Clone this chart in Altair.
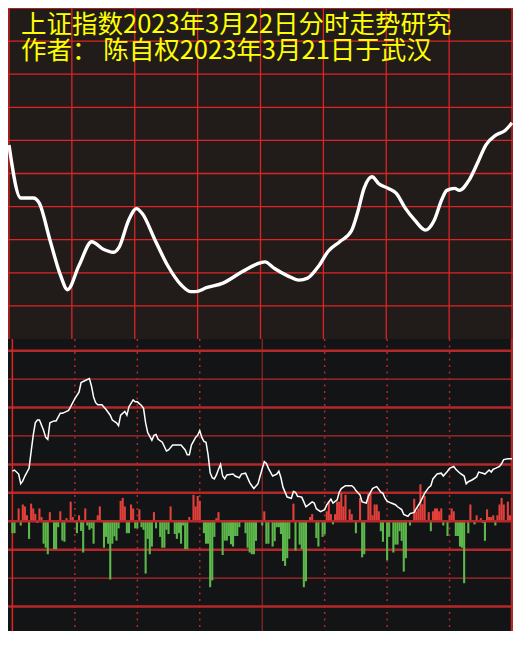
import altair as alt
import pandas as pd

# ---------------- text ----------------
title_line1 = "上证指数2023年3月22日分时走势研究"
title_line2 = "作者： 陈自权2023年3月21日于武汉"

# ---------------- top panel: forecast curve (minute of session, grid units) ----------------
forecast_minute = [0, 5.6, 11.6, 14.4, 19.5, 24.6, 27.9, 33.4, 39.5, 45.0,
                   49.7, 52.5, 57.1, 60.8, 63.6, 69.6, 75.7, 82.2, 86.8, 89.1,
                   94.2, 102.1, 111.4, 119.8, 122.1, 126.7, 133.2, 138.3, 142.5, 147.6,
                   152.3, 157.8, 163.4, 166.2, 169.4, 173.2, 176.4, 181.0, 184.8, 188.9,
                   193.6, 198.7, 202.9, 206.6, 208.9, 212.6, 214.9, 219.6, 223.7, 227.5,
                   232.1, 236.7, 240]
forecast_level = [5.86, 4.26, 4.26, 4.11, 3.00, 1.92, 1.49, 2.22, 2.94, 2.71,
                  2.62, 2.77, 3.59, 3.94, 3.79, 3.00, 2.22, 1.63, 1.43, 1.43,
                  1.55, 1.69, 2.04, 2.30, 2.33, 2.13, 1.90, 1.78, 1.84, 2.19,
                  2.65, 2.94, 3.27, 3.79, 4.55, 4.90, 4.69, 4.55, 4.40, 3.97,
                  3.59, 3.29, 3.59, 4.23, 4.49, 4.55, 4.49, 4.81, 5.34, 5.86,
                  6.15, 6.30, 6.53]

# ---------------- bottom panel: actual minute line (minute, grid units) ----------------
price_points = [
    (0, 1.76), (1, 1.80), (3, 1.66), (4, 1.32), (5, 1.42), (6, 1.59), (8, 1.86), (9, 2.45),
    (10, 3.02), (11, 3.46), (12, 3.56), (13, 3.56), (15, 3.19), (16, 2.95), (17, 2.88),
    (18, 3.46), (20, 3.53), (21, 3.53), (23, 3.80), (24, 3.80), (25, 3.83), (27, 3.90),
    (28, 4.03), (30, 4.31), (32, 4.54), (33, 4.88), (35, 4.95), (37, 5.02), (38, 4.75),
    (39, 4.37), (40, 4.17), (41, 4.10), (43, 4.10), (45, 3.93), (47, 3.73), (48, 3.56),
    (50, 3.46), (51, 3.36), (52, 3.73), (54, 3.86), (55, 3.73), (56, 4.03), (58, 4.27),
    (59, 4.20), (60, 4.20), (62, 4.07), (63, 3.97), (64, 3.46), (65, 3.12), (67, 2.85),
    (68, 3.02), (69, 3.05), (70, 2.88), (72, 2.78), (74, 2.47), (75, 2.51), (77, 2.68),
    (79, 2.68), (81, 2.68), (83, 2.51), (84, 2.34), (85, 2.34), (86, 2.68), (88, 2.95),
    (89, 3.02), (90, 3.19), (91, 2.95), (92, 2.81), (93, 2.78), (94, 2.34), (95, 1.70),
    (96, 1.53), (97, 1.49), (98, 1.63), (99, 1.83), (100, 2.00), (101, 1.59), (102, 1.49),
    (103, 1.63), (106, 1.66), (107, 1.59), (109, 1.53), (110, 1.66), (112, 1.69),
    (114, 1.36), (115, 1.25), (116, 1.15), (118, 1.32), (119, 1.59), (121, 2.10),
    (122, 2.03), (123, 1.86), (125, 1.59), (127, 1.66), (128, 1.76), (129, 1.53),
    (130, 1.19), (132, 0.85), (134, 0.81), (135, 1.05), (136, 1.02), (137, 0.88),
    (139, 0.85), (140, 0.68), (141, 0.51), (144, 0.68), (145, 0.64), (146, 0.44),
    (148, 0.34), (150, 0.41), (151, 0.58), (153, 0.78), (154, 0.64), (156, 0.75),
    (157, 1.02), (158, 1.15), (160, 1.25), (163, 1.25), (164, 1.19), (165, 1.08),
    (167, 0.92), (168, 0.68), (170, 0.64), (171, 0.88), (173, 1.15), (174, 1.19),
    (175, 1.22), (177, 1.02), (178, 0.98), (179, 0.81), (180, 0.71), (182, 0.64),
    (184, 0.58), (185, 0.51), (187, 0.41), (188, 0.24), (190, 0.17), (191, 0.27),
    (193, 0.31), (194, 0.44), (196, 0.68), (198, 0.98), (200, 1.19), (201, 1.25),
    (202, 1.49), (204, 1.66), (206, 1.69), (207, 1.59), (209, 1.76), (210, 1.86),
    (212, 1.93), (213, 1.83), (215, 1.69), (217, 1.59), (218, 1.32), (219, 1.39),
    (221, 1.46), (223, 1.56), (224, 1.73), (226, 1.69), (227, 1.66), (229, 1.80),
    (230, 1.73), (231, 1.83), (232, 1.86), (234, 1.93), (235, 2.03), (236, 2.17),
    (238, 2.20), (240, 2.20),
]
price_minute = [p[0] for p in price_points]
price_level = [p[1] for p in price_points]

# ---------------- bottom panel: red/green minute bars (minute, grid units) ----------------
bar_points = [
    (3, 0.45), (5, 0.59), (6, 0.52), (7, 0.21), (9, 0.62), (10, 0.45), (11, 0.26), (13, 0.45),
    (14, 0.15), (18, 0.32), (23, 0.35), (26, 0.11), (28, 0.69), (29, 0.15), (32, 0.21),
    (35, 0.45), (41, 0.21), (42, 0.52), (52, 0.72), (53, 0.82), (54, 0.52), (57, 0.59),
    (58, 0.45), (61, 0.42), (68, 0.32), (76, 0.52), (85, 0.15), (87, 0.93), (88, 0.52),
    (89, 0.89), (90, 0.72), (98, 0.11), (99, 0.32), (121, 0.35), (135, 0.62), (143, 0.15),
    (144, 0.25), (151, 0.35), (152, 0.70), (153, 0.25), (155, 0.25), (156, 0.69),
    (157, 0.69), (158, 0.99), (159, 0.52), (160, 0.93), (162, 0.42), (163, 0.25),
    (167, 0.82), (171, 0.99), (172, 0.99), (173, 0.21), (174, 0.59), (175, 0.59),
    (176, 0.35), (193, 0.79), (194, 0.35), (195, 0.45), (196, 1.30), (197, 0.60),
    (198, 0.89), (200, 0.32), (202, 0.35), (203, 0.45), (204, 0.45), (205, 0.35),
    (206, 0.45), (210, 0.21), (211, 0.45), (212, 0.35), (220, 0.59), (223, 0.21),
    (225, 0.11), (228, 0.42), (229, 0.15), (230, 0.15), (231, 0.21), (233, 0.21),
    (234, 0.59), (235, 0.82), (236, 0.59), (238, 0.69), (239, 0.21),
    (0, -0.42), (1, -0.42), (4, -0.15), (8, -0.62), (12, -0.06), (15, -0.79), (16, -0.93),
    (17, -1.16), (20, -0.98), (21, -0.98), (22, -0.21), (24, -0.68), (25, -0.72),
    (31, -0.42), (33, -0.34), (34, -1.10), (36, -0.15), (37, -0.30), (38, -0.25),
    (39, -0.79), (44, -0.93), (45, -0.55), (46, -0.79), (47, -2.05), (48, -0.79),
    (49, -0.53), (50, -0.68), (51, -0.25), (55, -0.42), (56, -0.42), (59, -0.25),
    (60, -0.25), (62, -0.21), (63, -0.30), (64, -1.84), (65, -0.62), (66, -1.16),
    (67, -0.89), (69, -0.25), (71, -0.55), (72, -0.93), (73, -0.93), (74, -0.30),
    (75, -0.45), (78, -0.45), (79, -0.62), (80, -0.42), (81, -0.79), (82, -0.15),
    (83, -0.98), (84, -0.98), (92, -0.42), (93, -0.79), (94, -0.79), (95, -2.32),
    (96, -2.08), (97, -0.55), (101, -1.19), (102, -0.68), (103, -0.68), (104, -0.52),
    (105, -0.81), (106, -0.89), (107, -0.52), (108, -0.52), (109, -0.21), (112, -0.42),
    (113, -0.93), (114, -1.10), (115, -1.16), (116, -1.16), (117, -0.69), (120, -0.15),
    (122, -0.79), (123, -0.79), (125, -0.89), (126, -0.70), (127, -0.21), (128, -0.21),
    (129, -0.45), (130, -1.40), (131, -1.57), (132, -1.30), (133, -0.62), (136, -1.03),
    (138, -0.82), (139, -0.98), (140, -2.32), (141, -2.11), (146, -0.59), (147, -0.89),
    (149, -0.55), (150, -0.45), (154, -0.11), (165, -0.42), (168, -1.27), (169, -1.16),
    (177, -0.35), (178, -0.72), (180, -1.37), (181, -0.55), (183, -1.10), (184, -0.82),
    (185, -0.82), (186, -0.35), (187, -0.69), (188, -1.77), (189, -1.30), (191, -0.15),
    (201, -0.35), (207, -0.15), (209, -0.52), (213, -0.52), (214, -0.52), (215, -0.89),
    (216, -0.93), (217, -2.18), (219, -0.42), (222, -0.11), (226, -0.06), (227, -0.69),
    (232, -0.15),
]
bar_minute = [b[0] for b in bar_points]
bar_value = [b[1] for b in bar_points]

# grid definitions
top_h_levels = [1, 2, 3, 4, 5, 6, 7, 8, 9, 10]
time_ticks = [0, 30, 60, 90, 120, 150, 180, 210, 240]
bottom_thick_levels = [6, 4, 2, 1, -1, -3]
bottom_thin_levels = [5, 3, -2]
bottom_dotted_minutes = [30, 60, 90, 150, 180, 210]

# ---------------- styling ----------------
W = 505
H1 = 331
H2 = 292
TOP_BG = "#211c1a"
BOT_BG = "#131416"
TOP_GRID = "#dc2424"
BOT_GRID = "#b4282a"
UP = "#e3403b"
DOWN = "#5cb84a"
FONT = "Noto Sans CJK SC"

top_x = alt.Scale(domain=[-0.47, 240.47], nice=False, zero=False)
top_y = alt.Scale(domain=[0, 10], nice=False, zero=False)
bot_x = alt.Scale(domain=[-2.11, 240.47], nice=False, zero=False)
bot_y = alt.Scale(domain=[-3.86, 6.41], nice=False, zero=False)

# ---------------- top panel ----------------
top_h = alt.Chart(pd.DataFrame({"lvl": top_h_levels})).mark_rule(
    color=TOP_GRID, strokeWidth=1.3, clip=True
).encode(y=alt.Y("lvl:Q", scale=top_y, axis=None))

top_v = alt.Chart(pd.DataFrame({"m": time_ticks})).mark_rule(
    color=TOP_GRID, strokeWidth=1.3, clip=True
).encode(x=alt.X("m:Q", scale=top_x, axis=None))

forecast = alt.Chart(
    pd.DataFrame({"m": forecast_minute, "v": forecast_level})
).mark_line(color="white", strokeWidth=3.4, interpolate="monotone", clip=True).encode(
    x=alt.X("m:Q", scale=top_x, axis=None),
    y=alt.Y("v:Q", scale=top_y, axis=None),
    order="m:Q",
)

t1 = alt.Chart(pd.DataFrame({"t": [title_line1]})).mark_text(
    font=FONT, fontSize=25.5, color="#ffff00", align="left", baseline="top"
).encode(text="t:N", x=alt.value(13), y=alt.value(4.5))

t2 = alt.Chart(pd.DataFrame({"t": [title_line2]})).mark_text(
    font=FONT, fontSize=25.5, color="#ffff00", align="left", baseline="top"
).encode(text="t:N", x=alt.value(13), y=alt.value(30.5))

top = alt.layer(top_h, top_v, forecast, t1, t2).properties(
    width=W, height=H1, view=alt.ViewBackground(fill=TOP_BG, stroke=None)
)

# ---------------- bottom panel ----------------
b_thick = alt.Chart(pd.DataFrame({"lvl": bottom_thick_levels})).mark_rule(
    color=BOT_GRID, strokeWidth=2.5, clip=True
).encode(y=alt.Y("lvl:Q", scale=bot_y, axis=None))

b_thin = alt.Chart(pd.DataFrame({"lvl": bottom_thin_levels})).mark_rule(
    color=BOT_GRID, strokeWidth=1.2, clip=True
).encode(y=alt.Y("lvl:Q", scale=bot_y, axis=None))

b_dots = alt.Chart(pd.DataFrame({"m": bottom_dotted_minutes})).mark_rule(
    color=BOT_GRID, strokeWidth=1.5, strokeDash=[2, 4.5], clip=True
).encode(x=alt.X("m:Q", scale=bot_x, axis=None))

b_left = alt.Chart(pd.DataFrame({"m": [time_ticks[0]]})).mark_rule(
    color=TOP_GRID, strokeWidth=1.5, clip=True
).encode(x=alt.X("m:Q", scale=bot_x, axis=None))

b_mid = alt.Chart(pd.DataFrame({"m": [time_ticks[4]]})).mark_rule(
    color=BOT_GRID, strokeWidth=1.0, clip=True
).encode(x=alt.X("m:Q", scale=bot_x, axis=None))

b_right = alt.Chart(pd.DataFrame({"m": [time_ticks[-1]]})).mark_rule(
    color=BOT_GRID, strokeWidth=2.5, clip=True
).encode(x=alt.X("m:Q", scale=bot_x, axis=None))

bars_df = pd.DataFrame({"m": bar_minute, "v": bar_value})
bars_df["dir"] = ["up" if v > 0 else "down" for v in bars_df["v"]]
bars = alt.Chart(bars_df).mark_rule(strokeWidth=2.1, clip=True).encode(
    x=alt.X("m:Q", scale=bot_x, axis=None),
    y=alt.Y("v:Q", scale=bot_y, axis=None),
    y2=alt.datum(0),
    color=alt.Color("dir:N", scale=alt.Scale(domain=["up", "down"], range=[UP, DOWN]), legend=None),
)

b_zero = alt.Chart(pd.DataFrame({"lvl": [0]})).mark_rule(
    color=BOT_GRID, strokeWidth=2.5, clip=True
).encode(y=alt.Y("lvl:Q", scale=bot_y, axis=None))

price = alt.Chart(pd.DataFrame({"m": price_minute, "v": price_level})).mark_line(
    color="white", strokeWidth=1.5, clip=True
).encode(
    x=alt.X("m:Q", scale=bot_x, axis=None),
    y=alt.Y("v:Q", scale=bot_y, axis=None),
    order="m:Q",
)

bottom = alt.layer(b_thick, b_thin, b_dots, b_left, b_mid, b_right, bars, b_zero, price).properties(
    width=W, height=H2, view=alt.ViewBackground(fill=BOT_BG, stroke=None)
)

chart = (
    alt.vconcat(top, bottom, spacing=0)
    .resolve_scale(x="independent", y="independent", color="independent")
    .properties(padding=0, background=BOT_BG)
    .configure_view(stroke=None)
)

chart.save("out.html", embed_options={"renderer": "svg", "actions": False})
